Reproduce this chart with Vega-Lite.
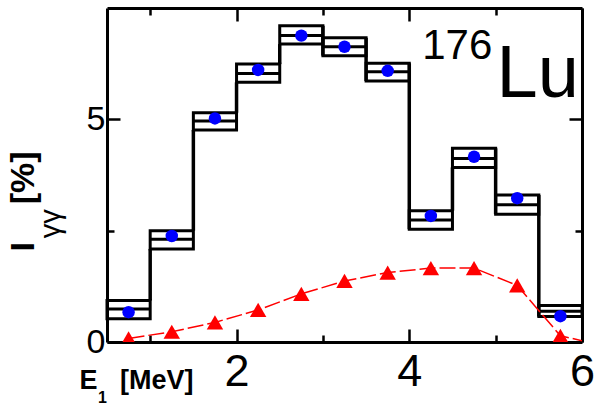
{
  "$schema": "https://vega.github.io/schema/vega-lite/v6.json",
  "width": 475,
  "height": 334,
  "autosize": {"type": "none"},
  "padding": {"left": 107, "top": 8, "right": 16, "bottom": 64},
  "background": "white",
  "config": {
    "view": {"stroke": null},
    "font": "Liberation Sans",
    "axis": {
      "domainColor": "black",
      "domainWidth": 3,
      "tickColor": "black",
      "tickWidth": 2.5,
      "grid": false,
      "labelColor": "black",
      "titleColor": "black",
      "labelFlush": false,
      "labelOverlap": false,
      "zindex": 1
    }
  },
  "datasets": {
    "bins": [
      {"lo": 0.5, "hi": 1.0, "e": 0.75, "low": 0.52, "mid": 0.74, "up": 0.93, "val": 0.67},
      {"lo": 1.0, "hi": 1.5, "e": 1.25, "low": 2.09, "mid": 2.31, "up": 2.50, "val": 2.38},
      {"lo": 1.5, "hi": 2.0, "e": 1.75, "low": 4.76, "mid": 4.96, "up": 5.15, "val": 5.02},
      {"lo": 2.0, "hi": 2.5, "e": 2.25, "low": 5.83, "mid": 6.03, "up": 6.24, "val": 6.11},
      {"lo": 2.5, "hi": 3.0, "e": 2.75, "low": 6.69, "mid": 6.88, "up": 7.10, "val": 6.88},
      {"lo": 3.0, "hi": 3.5, "e": 3.25, "low": 6.43, "mid": 6.63, "up": 6.83, "val": 6.63},
      {"lo": 3.5, "hi": 4.0, "e": 3.75, "low": 5.86, "mid": 6.07, "up": 6.26, "val": 6.09},
      {"lo": 4.0, "hi": 4.5, "e": 4.25, "low": 2.53, "mid": 2.74, "up": 2.95, "val": 2.83},
      {"lo": 4.5, "hi": 5.0, "e": 4.75, "low": 3.92, "mid": 4.12, "up": 4.35, "val": 4.16},
      {"lo": 5.0, "hi": 5.5, "e": 5.25, "low": 2.87, "mid": 3.08, "up": 3.30, "val": 3.23},
      {"lo": 5.5, "hi": 6.0, "e": 5.75, "low": 0.57, "mid": 0.69, "up": 0.82, "val": 0.58}
    ],
    "fit": [
      {"e": 0.75, "fit": 0.08},
      {"e": 1.25, "fit": 0.23},
      {"e": 1.75, "fit": 0.44},
      {"e": 2.25, "fit": 0.72},
      {"e": 2.75, "fit": 1.08},
      {"e": 3.25, "fit": 1.37},
      {"e": 3.75, "fit": 1.56},
      {"e": 4.25, "fit": 1.66},
      {"e": 4.75, "fit": 1.66},
      {"e": 5.25, "fit": 1.27},
      {"e": 5.75, "fit": 0.14},
      {"e": 6.0, "fit": 0.03}
    ]
  },
  "resolve": {"axis": {"x": "independent", "y": "independent"}},
  "layer": [
    {
      "data": {"name": "bins"},
      "mark": {"type": "rect", "filled": false, "stroke": "black", "strokeWidth": 3},
      "encoding": {
        "x": {
          "field": "lo", "type": "quantitative",
          "scale": {"domain": [0.5, 6], "nice": false, "zero": false},
          "axis": {
            "orient": "bottom", "values": [2, 4, 6], "tickSize": -13,
            "labelFontSize": 45, "labelBaseline": "alphabetic", "labelPadding": 56,
            "title": "E\u00a0\u00a0\u00a0[MeV]", "titleX": -28, "titleY": 46,
            "titleAlign": "left", "titleBaseline": "alphabetic",
            "titleFontSize": 27, "titleFontWeight": "bold"
          }
        },
        "x2": {"field": "hi"},
        "y": {
          "field": "low", "type": "quantitative",
          "scale": {"domain": [0, 7.5], "nice": false, "zero": false},
          "axis": {
            "orient": "left", "values": [0, 5], "tickSize": -13,
            "labelFontSize": 34, "labelBaseline": "middle", "labelPadding": 15,
            "title": "I\u00a0\u00a0\u00a0\u00a0[%]", "titleX": -74, "titleY": 243, "titleAngle": 270,
            "titleAlign": "left", "titleBaseline": "alphabetic",
            "titleFontSize": 34, "titleFontWeight": "bold"
          }
        },
        "y2": {"field": "up"}
      }
    },
    {
      "data": {"name": "bins"},
      "mark": {"type": "rule", "stroke": "black", "strokeWidth": 3},
      "encoding": {
        "x": {
          "field": "lo", "type": "quantitative",
          "scale": {"domain": [0.5, 6], "nice": false, "zero": false},
          "axis": {"orient": "bottom", "values": [1, 3, 5], "tickSize": -7, "labels": false, "domain": false, "title": null}
        },
        "x2": {"field": "hi"},
        "y": {
          "field": "mid", "type": "quantitative",
          "scale": {"domain": [0, 7.5], "nice": false, "zero": false},
          "axis": {"orient": "left", "values": [2.5], "tickSize": -7, "labels": false, "domain": false, "title": null}
        }
      }
    },
    {
      "data": {"name": "bins"},
      "transform": [
        {"window": [{"op": "lead", "field": "low", "as": "nextLow"}], "sort": [{"field": "lo"}]},
        {"filter": "isValid(datum.nextLow)"}
      ],
      "mark": {"type": "rule", "stroke": "black", "strokeWidth": 3.5},
      "encoding": {
        "x": {
          "field": "hi", "type": "quantitative",
          "scale": {"domain": [0.5, 6], "nice": false, "zero": false},
          "axis": {"orient": "top", "values": [2, 4, 6], "tickSize": -13, "labels": false, "title": null}
        },
        "y": {
          "field": "up", "type": "quantitative",
          "scale": {"domain": [0, 7.5], "nice": false, "zero": false},
          "axis": {"orient": "right", "values": [5], "tickSize": -13, "labels": false, "title": null}
        },
        "y2": {"field": "nextLow"}
      }
    },
    {
      "data": {"name": "bins"},
      "mark": {"type": "point", "shape": "circle", "filled": true, "color": "#0000ff", "opacity": 1, "size": 155},
      "encoding": {
        "x": {
          "field": "e", "type": "quantitative",
          "scale": {"domain": [0.5, 6], "nice": false, "zero": false},
          "axis": {"orient": "top", "values": [1, 3, 5], "tickSize": -7, "labels": false, "domain": false, "title": null}
        },
        "y": {
          "field": "val", "type": "quantitative",
          "scale": {"domain": [0, 7.5], "nice": false, "zero": false},
          "axis": {"orient": "right", "values": [2.5], "tickSize": -7, "labels": false, "domain": false, "title": null}
        }
      }
    },
    {
      "data": {"name": "fit"},
      "mark": {"type": "line", "color": "#ff0000", "strokeWidth": 1.5, "strokeDash": [16, 4], "clip": true},
      "encoding": {
        "x": {"field": "e", "type": "quantitative", "scale": {"domain": [0.5, 6], "nice": false, "zero": false}, "axis": null},
        "y": {"field": "fit", "type": "quantitative", "scale": {"domain": [0, 7.5], "nice": false, "zero": false}, "axis": null}
      }
    },
    {
      "data": {"name": "fit"},
      "transform": [{"filter": "datum.e < 6"}],
      "mark": {"type": "point", "shape": "triangle-up", "filled": true, "color": "#ff0000", "opacity": 1, "size": 270, "clip": true},
      "encoding": {
        "x": {"field": "e", "type": "quantitative", "scale": {"domain": [0.5, 6], "nice": false, "zero": false}, "axis": null},
        "y": {"field": "fit", "type": "quantitative", "scale": {"domain": [0, 7.5], "nice": false, "zero": false}, "axis": null}
      }
    },
    {
      "data": {"values": [{}]},
      "mark": {"type": "text", "text": "176", "fontSize": 42, "align": "left", "baseline": "alphabetic", "color": "black"},
      "encoding": {
        "x": {"datum": 4.15, "type": "quantitative", "scale": {"domain": [0.5, 6], "nice": false, "zero": false}, "axis": null},
        "y": {"datum": 6.36, "type": "quantitative", "scale": {"domain": [0, 7.5], "nice": false, "zero": false}, "axis": null}
      }
    },
    {
      "data": {"values": [{}]},
      "mark": {"type": "text", "text": "Lu", "fontSize": 74, "align": "left", "baseline": "alphabetic", "color": "black"},
      "encoding": {
        "x": {"datum": 5.01, "type": "quantitative", "scale": {"domain": [0.5, 6], "nice": false, "zero": false}, "axis": null},
        "y": {"datum": 5.51, "type": "quantitative", "scale": {"domain": [0, 7.5], "nice": false, "zero": false}, "axis": null}
      }
    },
    {
      "data": {"values": [{}]},
      "mark": {"type": "text", "text": "γγ", "fontSize": 29, "angle": 270, "align": "left", "baseline": "alphabetic", "color": "black"},
      "encoding": {
        "x": {"datum": -0.05, "type": "quantitative", "scale": {"domain": [0.5, 6], "nice": false, "zero": false}, "axis": null},
        "y": {"datum": 2.33, "type": "quantitative", "scale": {"domain": [0, 7.5], "nice": false, "zero": false}, "axis": null}
      }
    },
    {
      "data": {"values": [{}]},
      "mark": {"type": "text", "text": "1", "fontSize": 16, "fontWeight": "bold", "align": "left", "baseline": "alphabetic", "color": "black"},
      "encoding": {
        "x": {"datum": 0.396, "type": "quantitative", "scale": {"domain": [0.5, 6], "nice": false, "zero": false}, "axis": null},
        "y": {"datum": -1.37, "type": "quantitative", "scale": {"domain": [0, 7.5], "nice": false, "zero": false}, "axis": null}
      }
    }
  ]
}
